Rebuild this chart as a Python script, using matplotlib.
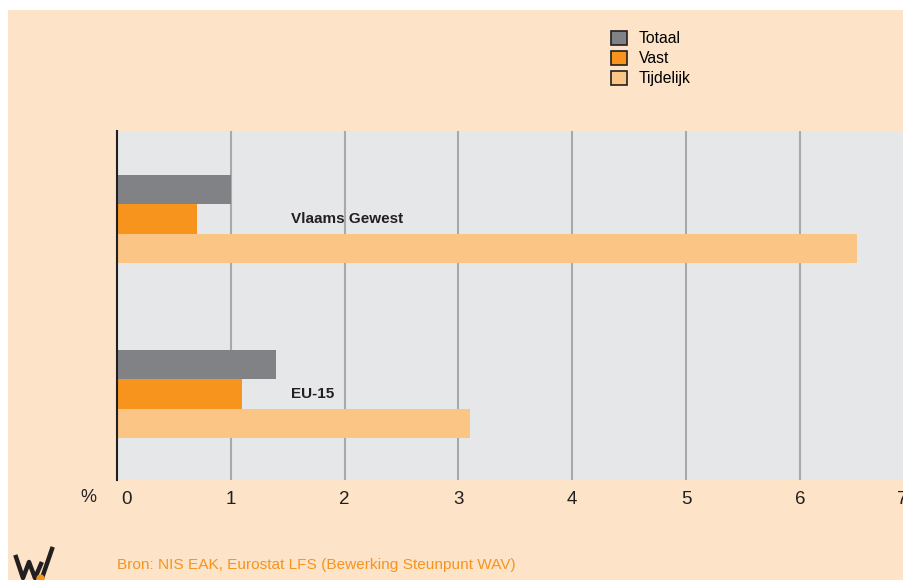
import numpy as np
import matplotlib
matplotlib.use("Agg")
import matplotlib.pyplot as plt
from matplotlib.patches import Rectangle
from matplotlib.transforms import ScaledTranslation

plt.rcParams['font.family'] = ['Liberation Sans', 'DejaVu Sans']

# data
regions = ["Vlaams Gewest", "EU-15"]
series = ["Totaal", "Vast", "Tijdelijk"]
totaal = [1.0, 1.4]
vast = [0.7, 1.1]
tijdelijk = [6.5, 3.1]
xticks = [0, 1, 2, 3, 4, 5, 6, 7]

colors = ["#808285", "#F7941E", "#FBC586"]
peach = "#FDE3C8"

W, H = 904, 580
fig = plt.figure(figsize=(W / 100, H / 100), dpi=100, facecolor=peach)

# white margins at top and left
fig.patches.append(Rectangle((0, 1 - 10 / H), 1, 10 / H, transform=fig.transFigure,
                             facecolor="white", edgecolor="none", zorder=-10))
fig.patches.append(Rectangle((0, 0), 8 / W, 1, transform=fig.transFigure,
                             facecolor="white", edgecolor="none", zorder=-10))

px = 113.8  # pixels per unit
ax = fig.add_axes([117 / W, 100 / H, 7 * px / W, 349 / H])
ax.set_facecolor("#E6E7E8")

h = 0.168
pos = np.arange(len(regions))
for i, vals in enumerate([totaal, vast, tijdelijk]):
    ax.barh(pos + (i - 1) * h, vals, height=h, color=colors[i], zorder=3, label=series[i])

for p, name in zip(pos, regions):
    ax.text(1.53, p, name, fontweight="bold", fontsize=11, va="center", ha="left",
            color="#231F20", zorder=4)

ax.set_xlim(0, 7)
ax.set_ylim(1.491, -0.503)
ax.set_yticks([])
ax.set_xticks(xticks)
ax.set_xticklabels([str(t) for t in xticks], fontsize=13.5, color="#231F20")
ax.tick_params(axis="x", length=0, pad=8)
labels = ax.get_xticklabels()
labels[0].set_transform(labels[0].get_transform() + ScaledTranslation(10 / 100, 0, fig.dpi_scale_trans))
labels[-1].set_transform(labels[-1].get_transform() + ScaledTranslation(-11 / 100, 0, fig.dpi_scale_trans))

for t in xticks[1:-1]:
    ax.axvline(t, color="#A7A9AC", lw=1.5, zorder=2)
for s in ["top", "right", "bottom"]:
    ax.spines[s].set_visible(False)
ax.spines["left"].set_color("#231F20")
ax.spines["left"].set_linewidth(1.5)
ax.spines["left"].set_zorder(5)

fig.text(88 / W, 1 - 497 / H, "%", fontsize=13, color="#231F20", ha="center", va="center")

# legend
handles = [Rectangle((0, 0), 1, 1, facecolor=c, edgecolor="#231F20", lw=1.2) for c in colors]
fig.legend(handles, series, loc="upper left", bbox_to_anchor=(603 / W, 1 - 23 / H),
           frameon=False, fontsize=11.3, handlelength=1.0, handleheight=1.0,
           handletextpad=0.8, labelspacing=0.3, borderpad=0)

fig.text(117 / W, 1 - 565 / H, "Bron: NIS EAK, Eurostat LFS (Bewerking Steunpunt WAV)",
         fontsize=11.1, color="#F7941E", ha="left", va="center")

# logo
lx = np.array([16, 23, 29, 35, 41]) / W
ly = 1 - np.array([557, 578, 562, 578, 564]) / H
fig.add_artist(plt.Line2D(lx, ly, color="#231F20", lw=3.2, solid_joinstyle="round"))
fig.add_artist(plt.Line2D([42 / W, 52 / W], [1 - 578 / H, 1 - 549 / H], color="#231F20", lw=3.2))
fig.add_artist(plt.Line2D([40 / W], [1 - 578 / H], marker="o", color="#F7941E", ms=5, lw=0))

fig.savefig("out.png", dpi=100, facecolor=fig.get_facecolor())
